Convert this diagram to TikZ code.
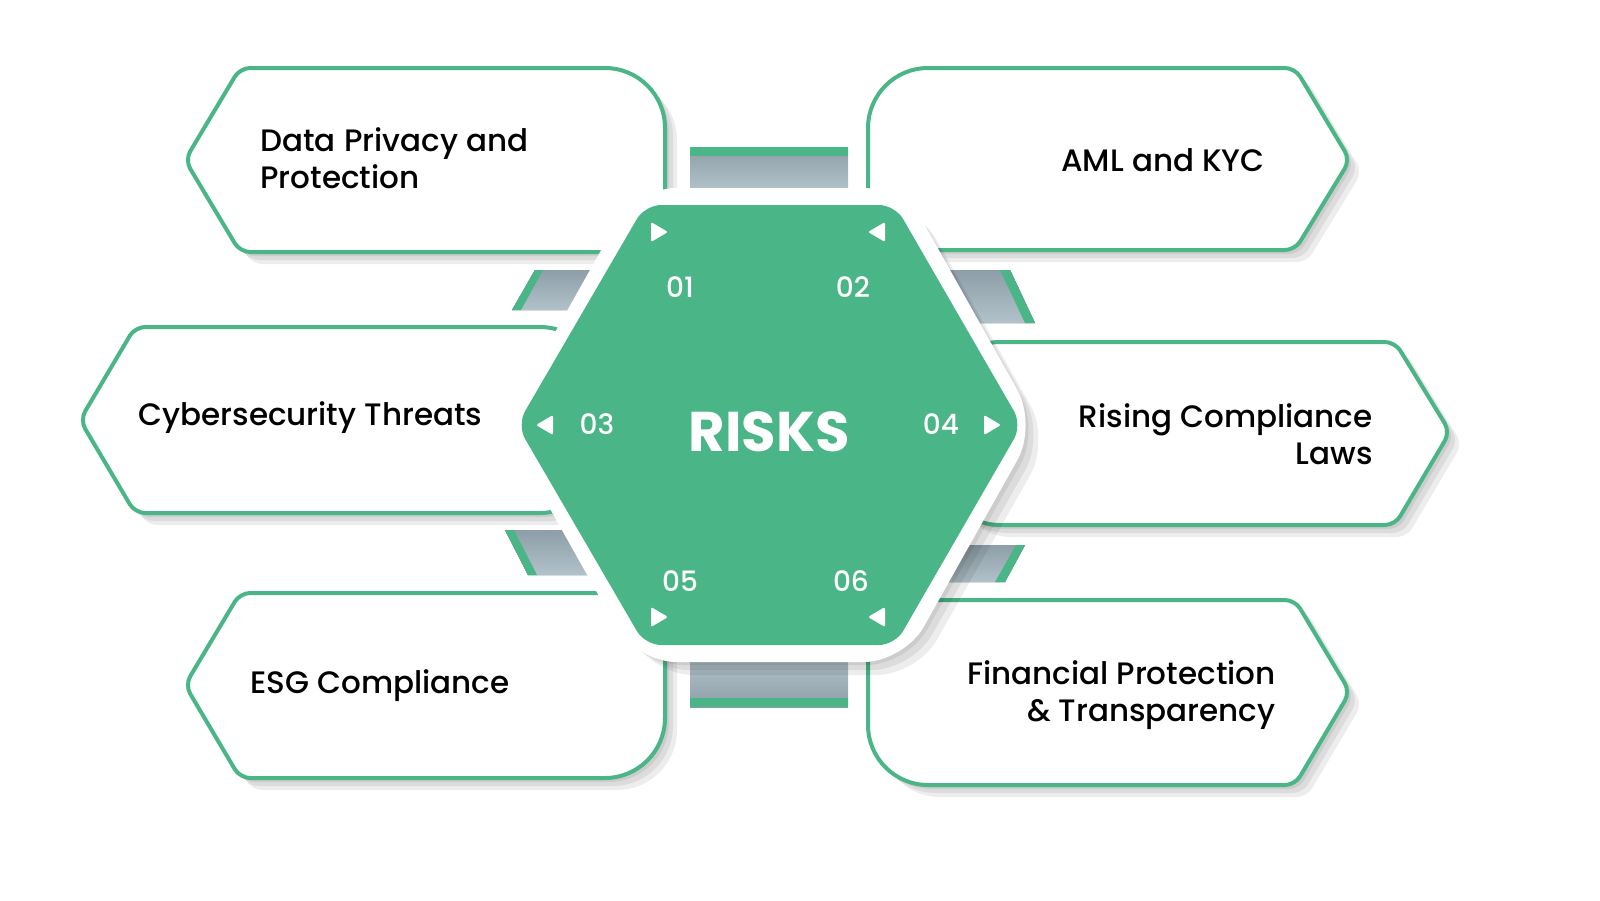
\documentclass[tikz,border=0pt]{standalone}
\usepackage{fontspec}
\setmainfont{Poppins}[UprightFont={* Medium},BoldFont={* Bold}]
\begin{document}
\begin{tikzpicture}[x=0.5pt,y=-0.5pt,
  gline/.style={draw=G,line width=2pt,fill=white},
  shad/.style={fill=black,opacity=0.07,draw=none},
  slot/.style={top color=S1,bottom color=S2,draw=none},
  lbl/.style={font=\fontsize{15.5}{18.5}\selectfont,inner sep=0pt},
  num/.style={font=\fontsize{14}{16}\selectfont,text=white,inner sep=0pt},
  tri/.style={fill=white,draw=none}]
\definecolor{G}{HTML}{4AB586}
\definecolor{S1}{HTML}{8E9EA8}
\definecolor{S2}{HTML}{B2C2CA}
\useasboundingbox (0,0) rectangle (1600,900);
% slots
\fill[slot] (690,147) rectangle (848,190);
\fill[G] (690,147) rectangle (848,156);
\fill[slot,bottom color=S1,top color=S2] (690,660) rectangle (848,707);
\fill[G] (690,698) rectangle (848,707);
\fill[slot] (512,310) -- (535,270) -- (620,270) -- (620,310) -- cycle;
\fill[G] (512,310) -- (535,270) -- (543,270) -- (521,310) -- cycle;
\fill[slot] (1035,323) -- (1010,270) -- (930,270) -- (930,323) -- cycle;
\fill[G] (1035,323) -- (1010,270) -- (1000,270) -- (1025,323) -- cycle;
\fill[slot] (505,530) -- (528,575) -- (620,575) -- (620,530) -- cycle;
\fill[G] (505,530) -- (528,575) -- (537,575) -- (514,530) -- cycle;
\fill[slot] (1025,545) -- (1005,582) -- (930,582) -- (930,545) -- cycle;
\fill[G] (1025,545) -- (1005,582) -- (995,582) -- (1016,545) -- cycle;
% boxes: shadows
\foreach \d in {4,8,12}{
 \fill[shad] [rounded corners=5pt] ([shift={(\d,\d)}]185,160) -- ([shift={(\d,\d)}]240,68) [rounded corners=30pt] -- ([shift={(\d,\d)}]665,68) -- ([shift={(\d,\d)}]665,252) [rounded corners=5pt] -- ([shift={(\d,\d)}]240,252) -- cycle;
 \fill[shad] [rounded corners=5pt] ([shift={(\d,\d)}]1350,160) -- ([shift={(\d,\d)}]1295,68) [rounded corners=30pt] -- ([shift={(\d,\d)}]868,68) -- ([shift={(\d,\d)}]868,250) [rounded corners=5pt] -- ([shift={(\d,\d)}]1295,250) -- cycle;
 \fill[shad] [rounded corners=5pt] ([shift={(\d,\d)}]80,420) -- ([shift={(\d,\d)}]135,327) [rounded corners=30pt] -- ([shift={(\d,\d)}]600,327) -- ([shift={(\d,\d)}]600,513) [rounded corners=5pt] -- ([shift={(\d,\d)}]135,513) -- cycle;
 \fill[shad] [rounded corners=5pt] ([shift={(\d,\d)}]1450,432) -- ([shift={(\d,\d)}]1395,342) [rounded corners=30pt] -- ([shift={(\d,\d)}]940,342) -- ([shift={(\d,\d)}]940,525) [rounded corners=5pt] -- ([shift={(\d,\d)}]1395,525) -- cycle;
 \fill[shad] [rounded corners=5pt] ([shift={(\d,\d)}]185,685) -- ([shift={(\d,\d)}]240,593) [rounded corners=30pt] -- ([shift={(\d,\d)}]665,593) -- ([shift={(\d,\d)}]665,778) [rounded corners=5pt] -- ([shift={(\d,\d)}]240,778) -- cycle;
 \fill[shad] [rounded corners=5pt] ([shift={(\d,\d)}]1350,692) -- ([shift={(\d,\d)}]1295,600) [rounded corners=30pt] -- ([shift={(\d,\d)}]868,600) -- ([shift={(\d,\d)}]868,785) [rounded corners=5pt] -- ([shift={(\d,\d)}]1295,785) -- cycle;
}
% boxes
\draw[gline] [rounded corners=5pt] (185,160) -- (240,68) [rounded corners=30pt] -- (665,68) -- (665,252) [rounded corners=5pt] -- (240,252) -- cycle;
\draw[gline] [rounded corners=5pt] (1350,160) -- (1295,68) [rounded corners=30pt] -- (868,68) -- (868,250) [rounded corners=5pt] -- (1295,250) -- cycle;
\draw[gline] [rounded corners=5pt] (80,420) -- (135,327) [rounded corners=30pt] -- (600,327) -- (600,513) [rounded corners=5pt] -- (135,513) -- cycle;
\draw[gline] [rounded corners=5pt] (1450,432) -- (1395,342) [rounded corners=30pt] -- (940,342) -- (940,525) [rounded corners=5pt] -- (1395,525) -- cycle;
\draw[gline] [rounded corners=5pt] (185,685) -- (240,593) [rounded corners=30pt] -- (665,593) -- (665,778) [rounded corners=5pt] -- (240,778) -- cycle;
\draw[gline] [rounded corners=5pt] (1350,692) -- (1295,600) [rounded corners=30pt] -- (868,600) -- (868,785) [rounded corners=5pt] -- (1295,785) -- cycle;
% labels
\node[lbl,anchor=west,align=left] (t1) at (260,158) {Data Privacy and\\Protection};
\node[lbl,anchor=east] (t2) at (1265,160) {AML and KYC};
\node[lbl,anchor=west] (t3) at (138,418) {Cybersecurity Threats};
\node[lbl,anchor=east,align=right] (t4) at (1373,434) {Rising Compliance\\Laws};
\node[lbl,anchor=west] (t5) at (250,686) {ESG Compliance};
\node[lbl,anchor=east,align=right] (t6) at (1276,695) {Financial Protection\\\& Transparency};
% hexagon
\foreach \d in {5,10,15}{
 \fill[shad,rounded corners=20pt] ([shift={(\d,\d)}]505,425) -- ([shift={(\d,\d)}]638,190) -- ([shift={(\d,\d)}]902,190) -- ([shift={(\d,\d)}]1035,425) -- ([shift={(\d,\d)}]902,660) -- ([shift={(\d,\d)}]638,660) -- cycle;}
\fill[white,rounded corners=20pt] (503,425) -- (636,188) -- (904,188) -- (1037,425) -- (904,662) -- (636,662) -- cycle;
\fill[G,rounded corners=8pt] (517,425) -- (645,205) -- (895,205) -- (1022,425) -- (895,645) -- (645,645) -- cycle;
\node[font=\fontsize{28}{32}\selectfont\bfseries,text=white,inner sep=0pt] (risks) at (769,432) {RISKS};
\node[num] (n1) at (680,287) {01};
\node[num] (n2) at (853,287) {02};
\node[num] (n3) at (597,424) {03};
\node[num] (n4) at (941,424) {04};
\node[num] (n5) at (680,581) {05};
\node[num] (n6) at (851,581) {06};
\fill[tri,rounded corners=1pt] (651,222) -- (668,232) -- (651,242) -- cycle;
\fill[tri,rounded corners=1pt] (885,222) -- (868,232) -- (885,242) -- cycle;
\fill[tri,rounded corners=1pt] (553,415) -- (536,425) -- (553,435) -- cycle;
\fill[tri,rounded corners=1pt] (984,415) -- (1001,425) -- (984,435) -- cycle;
\fill[tri,rounded corners=1pt] (651,607) -- (668,617) -- (651,627) -- cycle;
\fill[tri,rounded corners=1pt] (885,607) -- (868,617) -- (885,627) -- cycle;
\end{tikzpicture}
\end{document}
